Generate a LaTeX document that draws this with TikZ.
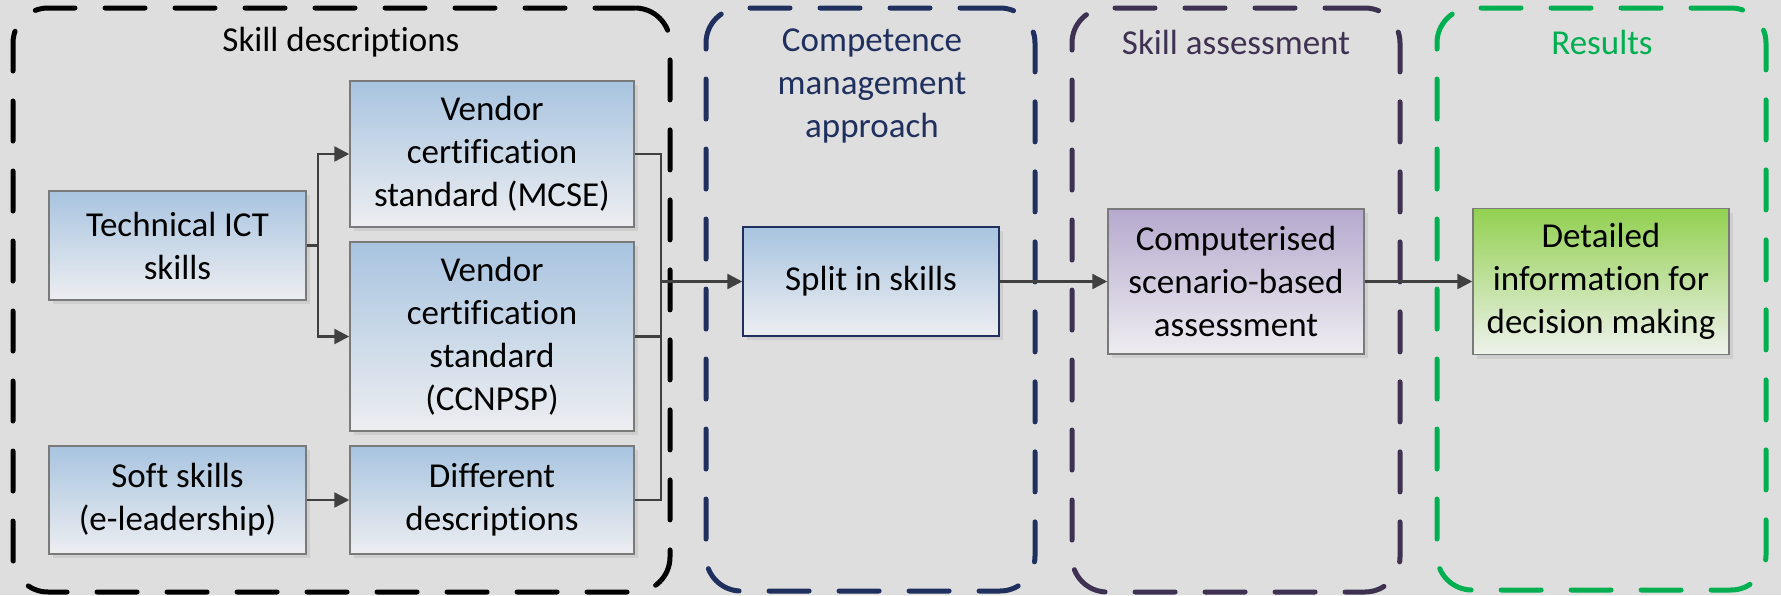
\documentclass[tikz,border=0pt]{standalone}
\usepackage{fontspec}
\setmainfont[RawFeature={-liga;-clig;-calt;-dlig}]{Carlito}
\usetikzlibrary{arrows.meta,shadows}
\definecolor{bg}{HTML}{DEDEDE}
\definecolor{navy}{HTML}{1F2F5E}
\definecolor{plum}{HTML}{3F3151}
\definecolor{leaf}{HTML}{00B050}
\definecolor{wire}{HTML}{404040}
\definecolor{edge}{HTML}{7A7A7A}
\definecolor{bluetop}{HTML}{A8C4E0}
\definecolor{bluebot}{HTML}{EDEEF1}
\definecolor{purptop}{HTML}{B6A9CE}
\definecolor{purpbot}{HTML}{EEEDF1}
\definecolor{greentop}{HTML}{92D050}
\definecolor{greenbot}{HTML}{EEF2EC}
\begin{document}
\begin{tikzpicture}[x=1pt,y=-1pt,
  font=\fontsize{35}{43}\selectfont,
  zone/.style={draw=#1, line width=5pt, dash pattern=on 40pt off 30pt,
    line cap=round, rounded corners=35pt, inner sep=0pt},
  zonetitle/.style={text=#1, align=center, inner sep=0pt},
  box/.style={draw=edge, line width=1.5pt, inner sep=0pt, align=center,
    drop shadow={shadow xshift=4pt, shadow yshift=-4pt, fill=black, opacity=0.07}},
  bluebox/.style={box, top color=bluetop, bottom color=bluebot},
  purplebox/.style={box, top color=purptop, bottom color=purpbot},
  greenbox/.style={box, top color=greentop, bottom color=greenbot},
  arr/.style={draw=wire, line width=2.5pt, -{Triangle[length=15pt,width=15pt]}},
  link/.style={draw=wire, line width=2.5pt}]

% canvas
\fill[bg] (0,0) rectangle (1781,595);
\useasboundingbox (0,0) rectangle (1781,595);

% dashed stage frames
\node[zone=black, minimum width=657pt, minimum height=584pt] (zdesc) at (341.5,300) {};
\node[zone=navy, minimum width=329pt, minimum height=583pt] (zcomp) at (870.5,299.5) {};
\node[zone=plum, minimum width=328pt, minimum height=584pt] (zassess) at (1236,300) {};
\node[zone=leaf, minimum width=329pt, minimum height=582pt] (zres) at (1601.5,299) {};

% stage titles
\node[zonetitle=black] (tdesc) at (341,42) {Skill descriptions};
\node[zonetitle=navy] (tcomp) at (872,86) {Competence\\management\\approach};
\node[zonetitle=plum] (tassess) at (1236,42) {Skill assessment};
\node[zonetitle=leaf] (tres) at (1602,42) {Results};

% skill description boxes
\node[bluebox, minimum width=257pt, minimum height=109pt] (tech) at (177.5,245.5) {Technical ICT\\skills};
\node[bluebox, minimum width=257pt, minimum height=108pt] (soft) at (177.5,500) {Soft skills\\(e-leadership)};
\node[bluebox, minimum width=284pt, minimum height=146pt] (mcse) at (492,154) {Vendor\\certification\\standard (MCSE)};
\node[bluebox, minimum width=284pt, minimum height=189pt] (ccnp) at (492,336.5) {Vendor\\certification\\standard\\(CCNPSP)};
\node[bluebox, minimum width=284pt, minimum height=108pt] (diff) at (492,500) {Different\\descriptions};

% later stages
\node[bluebox, draw=navy, minimum width=256pt, minimum height=109pt] (split) at (871,281.5) {Split in skills};
\node[purplebox, minimum width=256pt, minimum height=145pt] (compu) at (1236,281.5) {Computerised\\scenario-based\\assessment};
\node[greenbox, minimum width=256pt, minimum height=146pt] (detail) at (1601,281.5) {Detailed\\information for\\decision making};

% connectors
\coordinate (fork) at (318,245.5);
\coordinate (merge) at (661,281.5);
\draw[link] (tech.east) -- (fork);
\draw[arr] (fork) |- (mcse.west);
\draw[arr] (fork) |- (ccnp.west);
\draw[arr] (soft) -- (diff);
\draw[link] (mcse.east) -| (merge);
\draw[link] (diff.east) -| (merge);
\draw[link] (ccnp.east) -- (ccnp.east -| merge);
\draw[arr] (merge) -- (split.west);
\draw[arr] (split) -- (compu);
\draw[arr] (compu) -- (detail);
\end{tikzpicture}
\end{document}
